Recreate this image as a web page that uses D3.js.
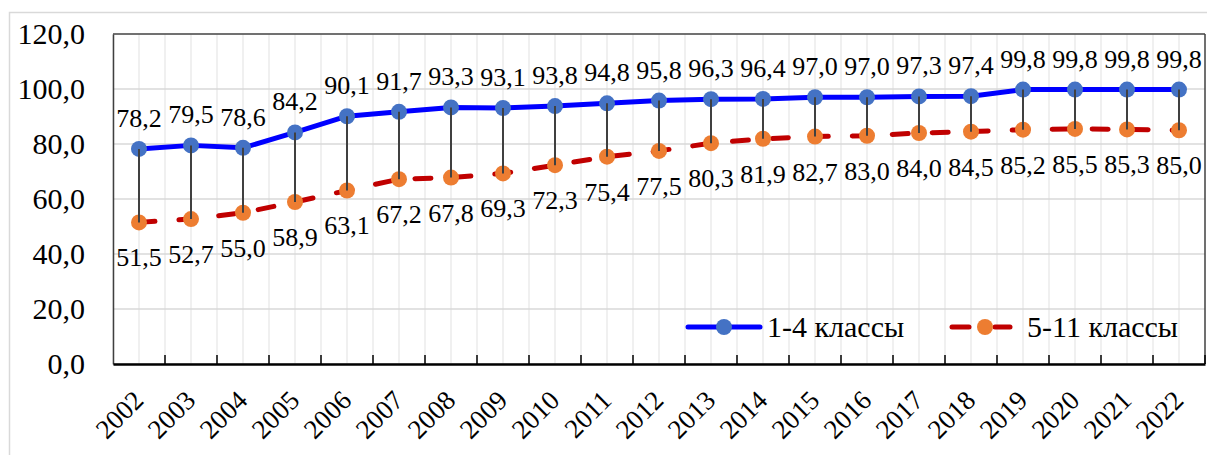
<!DOCTYPE html>
<html>
<head>
<meta charset="utf-8">
<script src="https://cdn.jsdelivr.net/npm/d3@7"></script>
<style>
  html, body { margin: 0; padding: 0; background: #ffffff; }
  svg { display: block; }
</style>
</head>
<body>
<svg id="chart" width="1207" height="455"></svg>
<script>
const years = ["2002","2003","2004","2005","2006","2007","2008","2009","2010","2011","2012","2013","2014","2015","2016","2017","2018","2019","2020","2021","2022"];
const primary = [78.2,79.5,78.6,84.2,90.1,91.7,93.3,93.1,93.8,94.8,95.8,96.3,96.4,97.0,97.0,97.3,97.4,99.8,99.8,99.8,99.8];
const secondary = [51.5,52.7,55.0,58.9,63.1,67.2,67.8,69.3,72.3,75.4,77.5,80.3,81.9,82.7,83.0,84.0,84.5,85.2,85.5,85.3,85.0];
const seriesNames = ["1-4 классы", "5-11 классы"];
const yTicks = [0,20,40,60,80,100,120];

const FONT = "'Liberation Serif', 'Times New Roman', serif";
const svg = d3.select("#chart").style("font-family", FONT);
const L = 113, R = 1205, T = 34, B = 364;
const fmt = v => d3.format(".1f")(v).replace(".", ",");

const x = d3.scaleBand().domain(years).range([L, R]).padding(0);
const cx = d => x(d) + x.bandwidth() / 2;
const y = d3.scaleLinear().domain([0, 120]).range([B, T]);

// outer chart border
svg.append("rect").attr("x", 9.5).attr("y", 12.5).attr("width", 1220).attr("height", 460)
  .attr("fill", "none").attr("stroke", "#d9d9d9").attr("stroke-width", 1.5);

// vertical grid (major at category centers, minor at boundaries)
const vg = svg.append("g");
years.forEach(yr => {
  [x(yr), cx(yr)].forEach(px => {
    vg.append("line").attr("x1", px).attr("x2", px).attr("y1", T).attr("y2", B)
      .attr("stroke", "#ebebeb").attr("stroke-width", 1.5);
  });
});
// horizontal grid
svg.append("g").selectAll("line").data(yTicks).join("line")
  .attr("x1", L).attr("x2", R).attr("y1", d => y(d)).attr("y2", d => y(d))
  .attr("stroke", "#d9d9d9").attr("stroke-width", 1.5);

// plot border top & right
svg.append("line").attr("x1", L).attr("x2", R).attr("y1", T).attr("y2", T).attr("stroke", "#000").attr("stroke-width", 1);
svg.append("line").attr("x1", R).attr("x2", R).attr("y1", T).attr("y2", B).attr("stroke", "#404040").attr("stroke-width", 1.5);

// y axis
const yAxis = svg.append("g").attr("transform", `translate(${L},0)`)
  .call(d3.axisLeft(y).tickValues(yTicks).tickFormat(fmt).tickSize(0).tickPadding(28));
yAxis.attr("font-family", null).attr("font-size", null);
yAxis.select(".domain").attr("stroke", "#404040").attr("stroke-width", 1.5);
yAxis.selectAll("text").style("font-size", "30px").style("font-family", FONT).attr("fill", "#000");

// x axis
const xAxis = svg.append("g").attr("transform", `translate(0,${B})`)
  .call(d3.axisBottom(x).tickValues([]).tickSize(0));
xAxis.select(".domain").attr("stroke", "#000").attr("stroke-width", 2.5);
// inward tick marks at category boundaries
const bounds = years.map(d => x(d)).concat([R]);
svg.append("g").selectAll("line").data(bounds.slice(1)).join("line")
  .attr("x1", d => d).attr("x2", d => d).attr("y1", B).attr("y2", B - 9)
  .attr("stroke", "#000").attr("stroke-width", 1.5);
// rotated year labels
svg.append("g").selectAll("text").data(years).join("text")
  .attr("transform", d => `translate(${cx(d) + 6},${B + 38}) rotate(-45)`)
  .attr("text-anchor", "end")
  .style("font-family", FONT)
  .style("font-size", "27px")
  .text(d => d);

// lines
const line1 = d3.line().x((d, i) => cx(years[i])).y(d => y(d));
svg.append("path").datum(primary).attr("d", line1)
  .attr("fill", "none").attr("stroke", "#0000ff").attr("stroke-width", 5).attr("stroke-linejoin", "round");
svg.append("path").datum(secondary).attr("d", line1)
  .attr("fill", "none").attr("stroke", "#c00000").attr("stroke-width", 5)
  .attr("stroke-dasharray", "16,24").attr("stroke-linecap", "round");

// markers
svg.append("g").selectAll("circle").data(primary).join("circle")
  .attr("cx", (d, i) => cx(years[i])).attr("cy", d => y(d)).attr("r", 8).attr("fill", "#4472c4");
svg.append("g").selectAll("circle").data(secondary).join("circle")
  .attr("cx", (d, i) => cx(years[i])).attr("cy", d => y(d)).attr("r", 8).attr("fill", "#ed7d31");

// drop lines
svg.append("g").selectAll("line").data(years).join("line")
  .attr("x1", d => cx(d)).attr("x2", d => cx(d))
  .attr("y1", (d, i) => y(primary[i])).attr("y2", (d, i) => y(secondary[i]))
  .attr("stroke", "#404040").attr("stroke-width", 2);

// data labels
svg.append("g").selectAll("text").data(primary).join("text")
  .attr("x", (d, i) => cx(years[i])).attr("y", d => y(d) - 22)
  .attr("text-anchor", "middle").style("font-family", FONT).style("font-size", "26px").text(fmt);
svg.append("g").selectAll("text").data(secondary).join("text")
  .attr("x", (d, i) => cx(years[i])).attr("y", d => y(d) + 44)
  .attr("text-anchor", "middle").style("font-family", FONT).style("font-size", "26px").text(fmt);

// legend
const lg = svg.append("g");
const ly = 327;
lg.append("line").attr("x1", 688).attr("x2", 760).attr("y1", ly).attr("y2", ly)
  .attr("stroke", "#0000ff").attr("stroke-width", 5).attr("stroke-linecap", "round");
lg.append("circle").attr("cx", 724).attr("cy", ly).attr("r", 8).attr("fill", "#4472c4");
lg.append("text").attr("x", 767).attr("y", 337).style("font-family", FONT).style("font-size", "30px").text(seriesNames[0]);
lg.append("line").attr("x1", 952).attr("x2", 969).attr("y1", ly).attr("y2", ly)
  .attr("stroke", "#c00000").attr("stroke-width", 5).attr("stroke-linecap", "round");
lg.append("line").attr("x1", 995).attr("x2", 1010).attr("y1", ly).attr("y2", ly)
  .attr("stroke", "#c00000").attr("stroke-width", 5).attr("stroke-linecap", "round");
lg.append("circle").attr("cx", 985).attr("cy", ly).attr("r", 8).attr("fill", "#ed7d31");
lg.append("text").attr("x", 1027).attr("y", 337).style("font-family", FONT).style("font-size", "30px").text(seriesNames[1]);
</script>
</body>
</html>
